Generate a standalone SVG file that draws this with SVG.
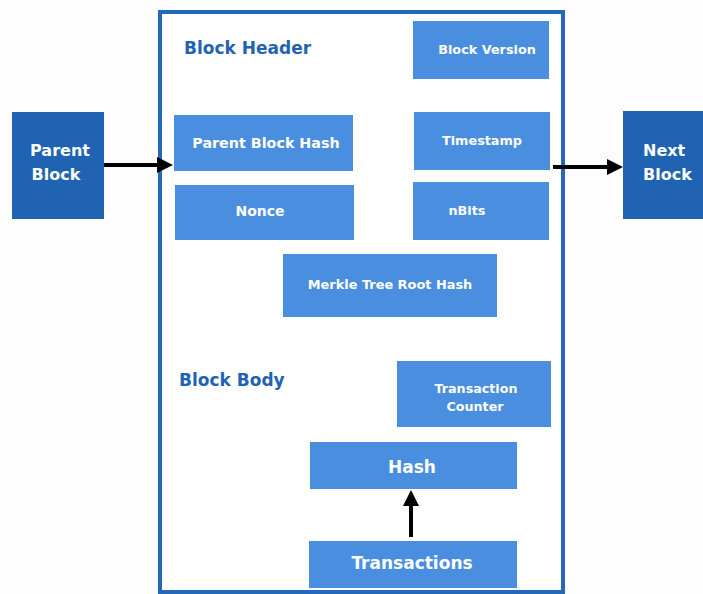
<svg xmlns="http://www.w3.org/2000/svg" width="703" height="594" viewBox="0 0 703 594">
<style>
text{font-family:"DejaVu Sans","Liberation Sans",sans-serif;font-weight:bold}
.box{fill:#4a8ee0}
.dark{fill:#1f63b2}
.w{fill:#ffffff;text-anchor:middle}
.lbl{fill:#1f63b2;font-size:17px}
.conn{stroke:#000;stroke-width:4;fill:none;marker-end:url(#ah)}
</style>
<defs>
<marker id="ah" markerWidth="4" markerHeight="4" refX="3" refY="2" orient="auto" markerUnits="strokeWidth">
<path d="M0,0 L4,2 L0,4 z" fill="#000"/>
</marker>
</defs>
<rect width="703" height="594" fill="#fdfdfd"/>
<g id="container">
<rect x="160" y="12" width="403" height="580" fill="#ffffff" stroke="#2468b8" stroke-width="4"/>
<text class="lbl" x="184" y="54">Block Header</text>
<text class="lbl" x="179" y="386">Block Body</text>
</g>
<g id="parent-block">
<rect class="dark" x="12" y="112" width="92" height="107"/>
<text class="w" x="60" y="156" font-size="16">Parent</text>
<text class="w" x="56" y="180" font-size="16">Block</text>
</g>
<g id="next-block">
<rect class="dark" x="623" y="111" width="80" height="108"/>
<text x="643" y="156" font-size="16" fill="#ffffff">Next</text>
<text x="643" y="180" font-size="16" fill="#ffffff">Block</text>
</g>
<g id="block-version">
<rect class="box" x="413" y="21" width="136" height="58"/>
<text class="w" x="487" y="54" font-size="12.8">Block Version</text>
</g>
<g id="parent-block-hash">
<rect class="box" x="174" y="115" width="179" height="56"/>
<text class="w" x="266" y="148" font-size="14.3">Parent Block Hash</text>
</g>
<g id="timestamp">
<rect class="box" x="414" y="112" width="136" height="58"/>
<text class="w" x="482" y="145" font-size="12.8">Timestamp</text>
</g>
<g id="nonce">
<rect class="box" x="175" y="185" width="179" height="55"/>
<text class="w" x="260" y="216" font-size="14">Nonce</text>
</g>
<g id="nbits">
<rect class="box" x="413" y="182" width="136" height="58"/>
<text class="w" x="467" y="215" font-size="12.8">nBits</text>
</g>
<g id="merkle-root">
<rect class="box" x="283" y="254" width="214" height="63"/>
<text class="w" x="390" y="289" font-size="12.9">Merkle Tree Root Hash</text>
</g>
<g id="transaction-counter">
<rect class="box" x="397" y="361" width="154" height="66"/>
<text class="w" x="476" y="393" font-size="12.7">Transaction</text>
<text class="w" x="475" y="411" font-size="12.7">Counter</text>
</g>
<g id="hash">
<rect class="box" x="310" y="442" width="207" height="47"/>
<text class="w" x="412" y="473" font-size="17">Hash</text>
</g>
<g id="transactions">
<rect class="box" x="309" y="541" width="208" height="47"/>
<text class="w" x="412" y="569" font-size="17">Transactions</text>
</g>
<g id="connectors">
<line class="conn" x1="104" y1="165" x2="169" y2="165"/>
<line class="conn" x1="553" y1="167" x2="619" y2="167"/>
<line class="conn" x1="411" y1="537" x2="411" y2="494"/>
</g>
</svg>
